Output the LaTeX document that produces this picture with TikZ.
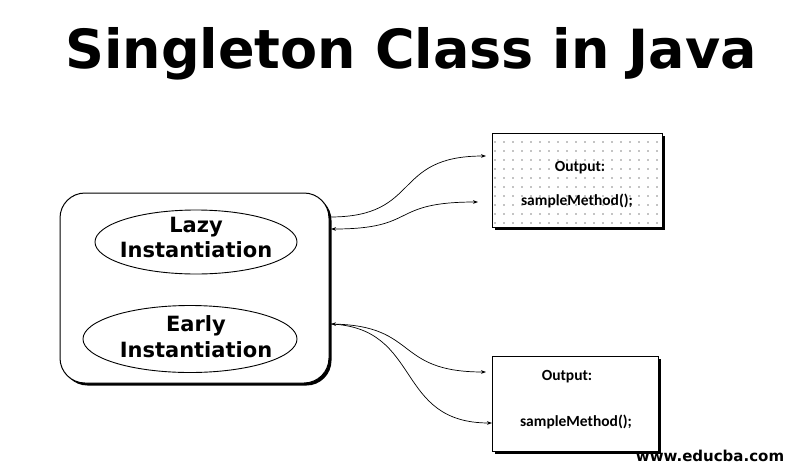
\documentclass[tikz,border=0pt]{standalone}
\usepackage{fontspec}
\newfontfamily\dvfont{DejaVu Sans}
\newfontfamily\calfont{Carlito}
\usetikzlibrary{arrows.meta,shapes.geometric,shadows,patterns.meta}
\begin{document}
\begin{tikzpicture}[x=1pt,y=-1pt,
  >={Stealth[length=5pt,width=3.6pt]},
  outerbox/.style={draw, line width=1pt, rectangle, rounded corners=25pt, inner sep=0pt,
    fill=white, drop shadow={shadow xshift=2.5pt, shadow yshift=-2.5pt, opacity=1, fill=black}},
  outbox/.style={draw, line width=1pt, rectangle, inner sep=0pt,
    drop shadow={shadow xshift=3pt, shadow yshift=-3pt, opacity=1, fill=black}},
  ell/.style={draw, ellipse, line width=0.9pt, inner sep=0pt},
  conn/.style={line width=0.7pt},
  boxtext/.style={font=\calfont\bfseries\fontsize{15.5}{18}\selectfont, anchor=base},
  elltext/.style={font=\dvfont\bfseries\fontsize{21}{25.5}\selectfont, align=center}]
\useasboundingbox (0,0) rectangle (807,475);

% title
\node[font=\dvfont\bfseries\fontsize{54}{60}\selectfont, anchor=base, inner sep=0pt] (title) at (411,68) {Singleton Class in Java};

% outer container
\node[outerbox, minimum width=269pt, minimum height=190pt] (outer) at (194.5,288) {};
\node[ell, minimum width=202pt, minimum height=64pt] (lazy) at (196,242) {};
\node[elltext] (lazytext) at (196,237.5) {Lazy\\Instantiation};
\node[ell, minimum width=214pt, minimum height=67pt] (early) at (190,339) {};
\node[elltext] (earlytext) at (196,336.8) {Early\\Instantiation};

% output boxes
\node[outbox, minimum width=170pt, minimum height=94pt,
  preaction={fill=white}, pattern={Dots[distance=9pt, radius=0.65pt]}] (out1) at (577,180) {};
\node[boxtext] (o1a) at (580,171) {Output:};
\node[boxtext] (o1b) at (577,205) {sampleMethod();};

\node[outbox, fill=white, minimum width=166pt, minimum height=95pt] (out2) at (575,403.5) {};
\node[boxtext] (o2a) at (567,380) {Output:};
\node[boxtext] (o2b) at (576,426) {sampleMethod();};

% connectors
\coordinate (c1s) at (330,217);
\coordinate (c1e) at (486,156);
\coordinate (c2s) at (478,202);
\coordinate (c2e) at (331,229);
\coordinate (c3s) at (331,324);
\coordinate (c3e) at (486,372);
\coordinate (c4e) at (492,423);

\draw[conn,->] (c1s) .. controls +(92,0) and +(-95,0) .. (c1e);
\draw[conn,<->] (c2s) .. controls +(-90,0) and +(88,0) .. (c2e);
\draw[conn,<->] (c3s) .. controls +(88,2) and +(-92,0) .. (c3e);
\draw[conn,->] (c3s) .. controls +(92,4) and +(-98,0) .. (c4e);

% watermark
\node[font=\dvfont\bfseries\fontsize{15}{18}\selectfont, anchor=base, inner sep=0pt] (wm) at (710,461) {www.educba.com};
\end{tikzpicture}
\end{document}
